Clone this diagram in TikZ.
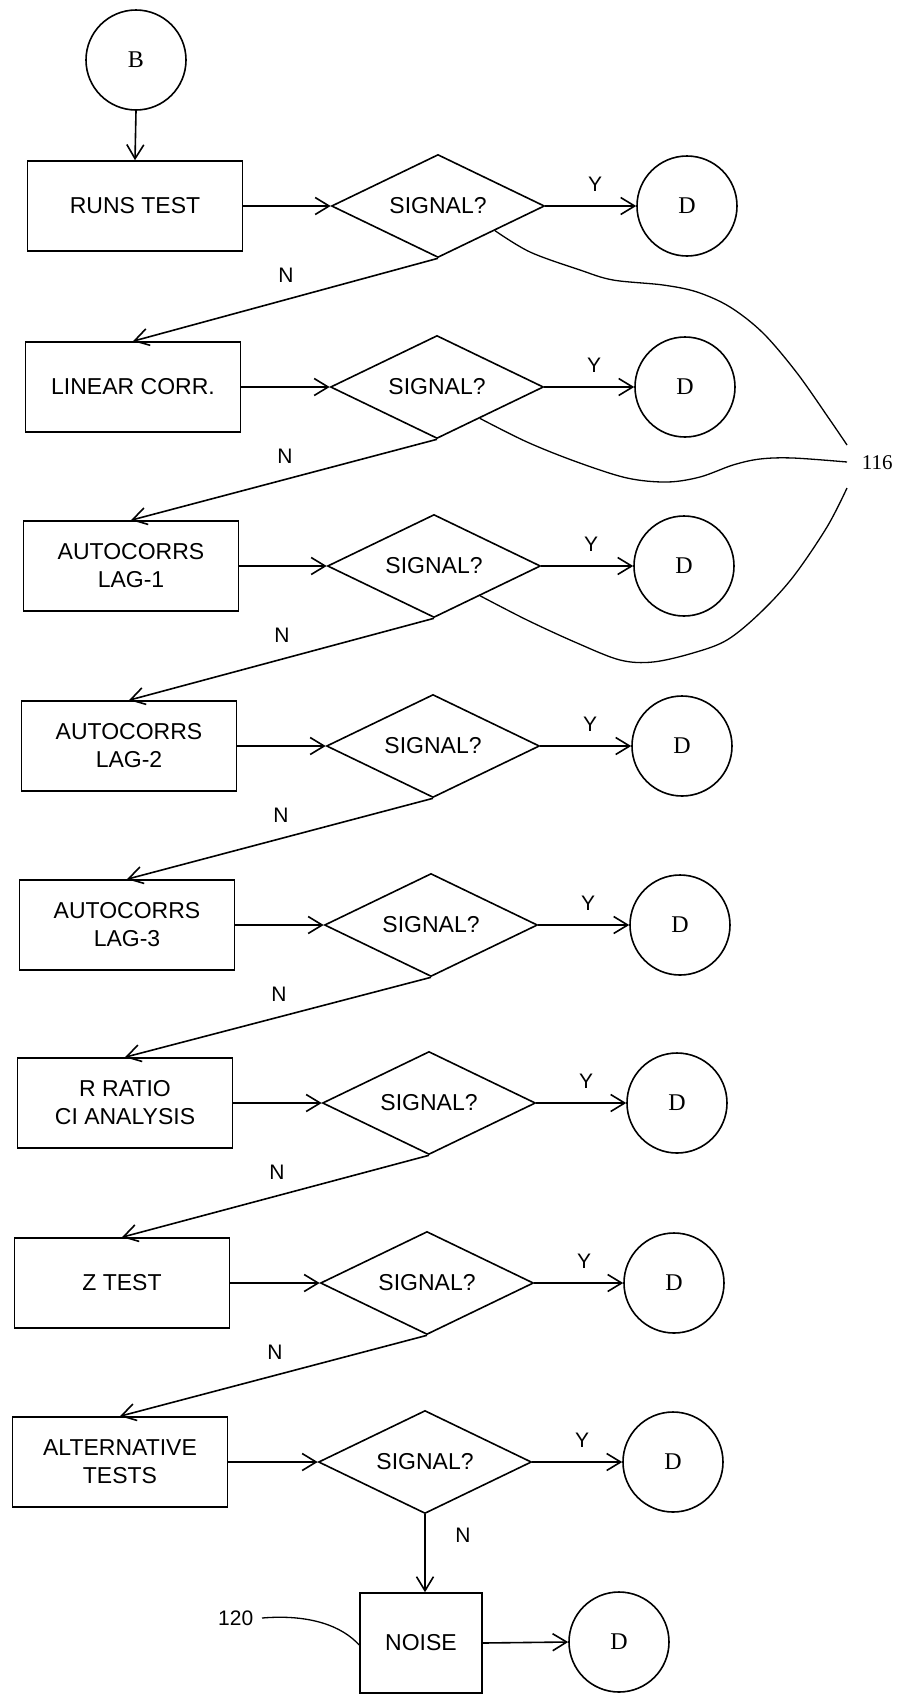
\documentclass[tikz,border=0pt]{standalone}
\usepackage{fontspec}
\setmainfont{Liberation Sans}
\newfontfamily\serifD{Liberation Serif}
\usetikzlibrary{shapes.geometric,arrows.meta,calc}
\begin{document}
\begin{tikzpicture}[x=1pt,y=-1pt,
  line width=1.6pt,
  every node/.style={font=\fontsize{23}{28}\selectfont},
  proc/.style={draw, rectangle, minimum width=215pt, minimum height=90pt, align=center, inner sep=0pt},
  dec/.style={draw, diamond, minimum width=213pt, minimum height=103pt, inner sep=0pt, aspect=2},
  term/.style={draw, circle, minimum size=100pt, inner sep=0pt, font=\serifD\fontsize{24}{26}\selectfont},
  arr/.style={-{Straight Barb[length=14pt,width=17pt]}},
  lbl/.style={font=\fontsize{21}{24}\selectfont, inner sep=0pt},
  lead/.style={line width=1.3pt}
]
\useasboundingbox (0,0) rectangle (902,1695);

\node[term] (B) at (136,60) {B};

\foreach \i/\y/\bx/\dx/\tx/\txt in {
  1/206/135/438/687/{RUNS TEST},
  2/387/133/437/685/{LINEAR CORR.},
  3/566/131/434/684/{AUTOCORRS\\LAG-1},
  4/746/129/433/682/{AUTOCORRS\\LAG-2},
  5/925/127/431/680/{AUTOCORRS\\LAG-3},
  6/1103/125/429/677/{R RATIO\\CI ANALYSIS},
  7/1283/122/427/674/{Z TEST},
  8/1462/120/425/673/{ALTERNATIVE\\TESTS}}
{
  \node[proc] (p\i) at (\bx,\y) {\txt};
  \node[dec] (d\i) at (\dx,\y) {SIGNAL?};
  \node[term] (t\i) at (\tx,\y) {D};
  \draw[arr] (p\i.east) -- (d\i.west);
  \draw[arr] (d\i.east) -- (t\i.west);
  \node[lbl] (y\i) at (\dx+157,\y-22) {Y};
}

\draw[arr] (B.south) -- (p1.north);

\foreach \i/\j in {1/2,2/3,3/4,4/5,5/6,6/7,7/8}{
  \draw[arr] (d\i.south) -- (p\j.north);
  \path (d\i.south) ++(-152,17) node[lbl] (n\i) {N};
}

\node[draw, rectangle, minimum width=122pt, minimum height=100pt, inner sep=0pt] (noise) at (421,1643) {NOISE};
\node[term] (tn) at (619,1642) {D};
\draw[arr] (d8.south) -- (d8.south |- noise.north);
\node[lbl] (n8) at (463,1535) {N};
\draw[arr] (noise.east) -- (tn.west);

% reference numeral 120
\node[font=\fontsize{21}{24}\selectfont, inner sep=0pt, anchor=east] (r120) at (254,1618) {120};
\coordinate (l120) at ($(noise.west)+(0,2)$);
\draw[lead] (r120.east)++(8,0) coordinate (l120s) .. controls (310,1614) and (342,1626) .. (l120);

% reference numeral 116
\node[font=\serifD\fontsize{21}{24}\selectfont, inner sep=0pt, anchor=west] (r116) at (861,463) {116};
\coordinate (s1) at ($(d1.east)!0.47!(d1.south)$);
\coordinate (s2) at ($(d2.east)!0.60!(d2.south)$);
\coordinate (s3) at ($(d3.east)!0.57!(d3.south)$);
\coordinate (e1) at (847,445);
\coordinate (e2) at (847,462);
\coordinate (e3) at (847,488);
\draw[lead] plot[smooth, tension=0.55] coordinates {(s1) (530,252) (580,270) (613,280) (663,285) (697,292) (730,307) (763,333) (797,373) (830,420) (e1)};
\draw[lead] plot[smooth, tension=0.55] coordinates {(s2) (527,442) (577,462) (627,478) (667,482) (700,477) (733,465) (760,459) (793,458) (e2)};
\draw[lead] plot[smooth, tension=0.55] coordinates {(s3) (527,620) (577,643) (620,660) (653,662) (693,653) (727,640) (760,613) (793,577) (827,527) (e3)};
\end{tikzpicture}
\end{document}
